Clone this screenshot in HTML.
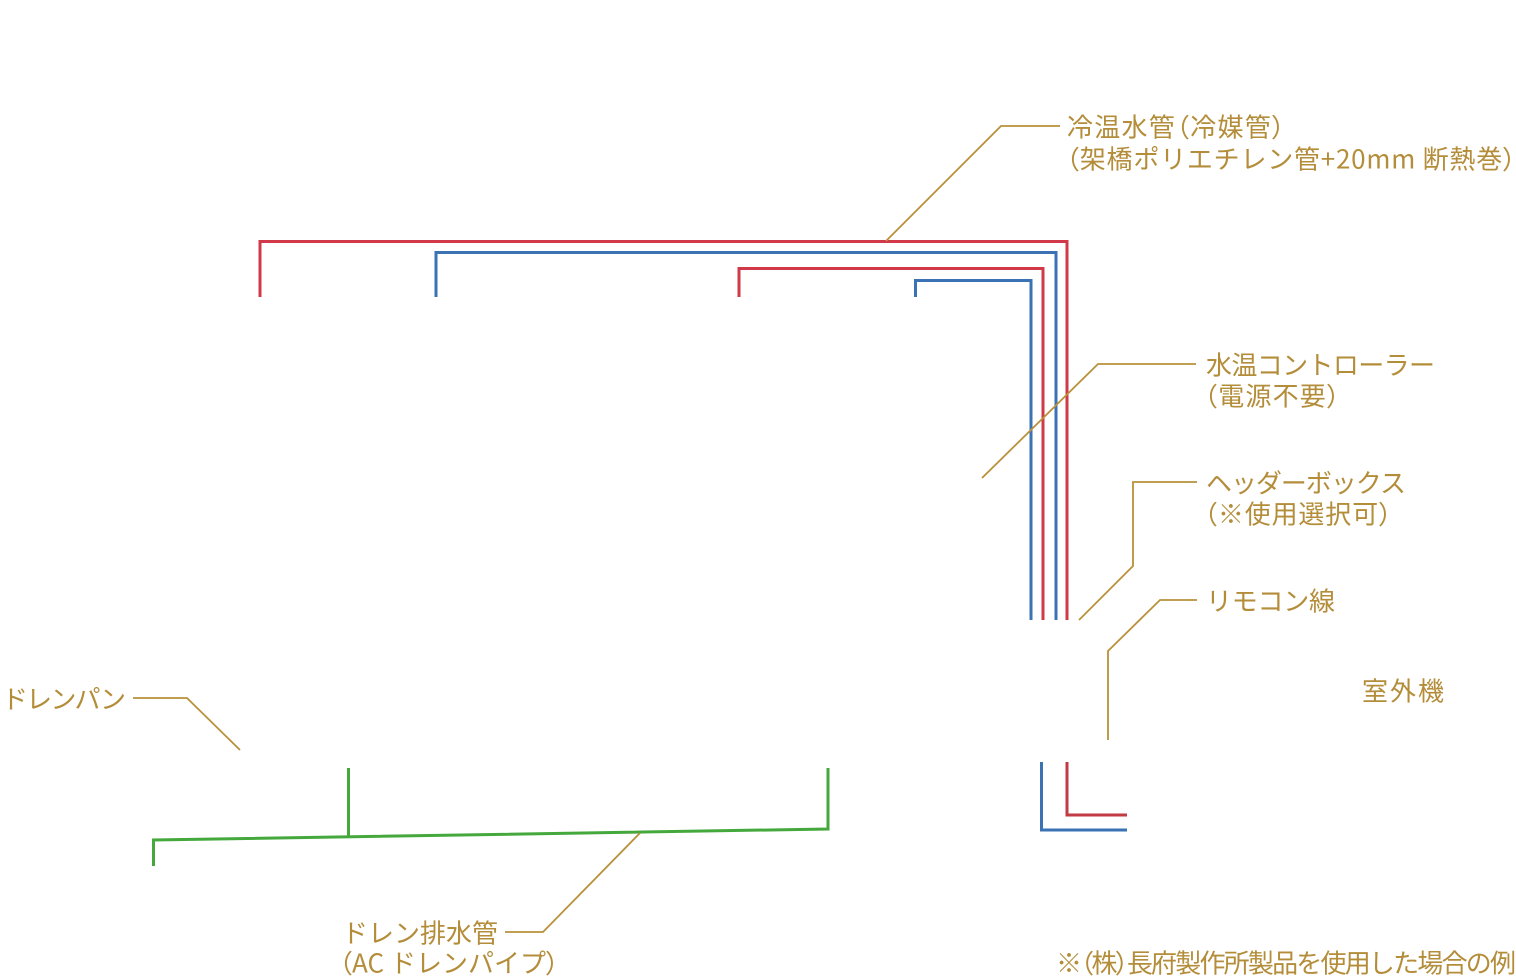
<!DOCTYPE html>
<html><head><meta charset="utf-8">
<style>
html,body{margin:0;padding:0;background:#fff;}
svg{display:block;}
text{font-family:"Noto Sans CJK JP",sans-serif;font-size:26px;fill:#b48d3a;}
.p{font-feature-settings:"palt";}
</style></head>
<body>
<svg width="1516" height="976" viewBox="0 0 1516 976" xmlns="http://www.w3.org/2000/svg">
<rect width="1516" height="976" fill="#fff"/>
<g fill="none" stroke-width="3" stroke-linejoin="miter" stroke-linecap="butt">
<polyline points="260,297 260,241.5 1067,241.5 1067,620" stroke="#d13848"/>
<polyline points="436,297 436,252.5 1056,252.5 1056,620" stroke="#3a72b4"/>
<polyline points="739,297 739,268.5 1043,268.5 1043,620" stroke="#d13848"/>
<polyline points="915.5,297 915.5,280.5 1031,280.5 1031,620" stroke="#3a72b4"/>
<polyline points="1041.5,762 1041.5,830 1127,830" stroke="#3a72b4"/>
<polyline points="1067,762 1067,815 1127,815" stroke="#c23a44"/>
<polyline points="153.5,866 153.5,840 828,829 828,768" stroke="#45a83c"/>
<line x1="348.5" y1="768" x2="348.5" y2="837" stroke="#45a83c"/>
</g>
<g fill="none" stroke="#b8913a" stroke-width="1.8">
<polyline points="886,241 1001,126 1060,126"/>
<polyline points="982,478 1098,364 1196,364"/>
<polyline points="1079,620 1133,566 1133,482 1197,482"/>
<polyline points="1108,740 1108,651 1160,600 1197,600"/>
<polyline points="133,698 187,698 240,750"/>
<polyline points="640,833 543,932 505,932"/>
</g>
<g dominant-baseline="central">
<text x="1067" y="126" textLength="218" lengthAdjust="spacing">冷温水管<tspan class="p">（</tspan>冷媒管<tspan class="p">）</tspan></text>
<text x="1066" y="158" textLength="450" lengthAdjust="spacing"><tspan class="p">（</tspan>架橋ポリエチレン管+20mm 断熱巻<tspan class="p">）</tspan></text>
<text x="1206" y="364" textLength="229" lengthAdjust="spacing">水温コントローラー</text>
<text x="1204" y="395" textLength="136" lengthAdjust="spacing"><tspan class="p">（</tspan>電源不要<tspan class="p">）</tspan></text>
<text x="1206" y="482" textLength="200" lengthAdjust="spacing">ヘッダーボックス</text>
<text x="1204" y="513" textLength="188" lengthAdjust="spacing"><tspan class="p">（</tspan>※使用選択可<tspan class="p">）</tspan></text>
<text x="1206" y="600" textLength="129" lengthAdjust="spacing">リモコン線</text>
<text x="1362" y="690" textLength="82" lengthAdjust="spacing">室外機</text>
<text x="2" y="698" textLength="124" lengthAdjust="spacing">ドレンパン</text>
<text x="342" y="932" textLength="156" lengthAdjust="spacing">ドレン排水管</text>
<text x="339" y="962" textLength="220" lengthAdjust="spacing"><tspan class="p">（</tspan>AC ドレンパイプ<tspan class="p">）</tspan></text>
<text x="1056" y="962" textLength="460" lengthAdjust="spacing">※<tspan class="p">（</tspan>株<tspan class="p">）</tspan>長府製作所製品を使用した場合の例</text>
</g>
</svg>
</body></html>
